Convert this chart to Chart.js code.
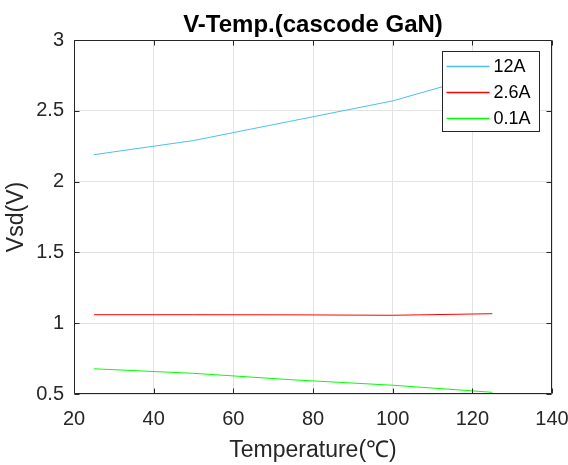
<!DOCTYPE html>
<html>
<head>
<meta charset="utf-8">
<script src="https://cdn.jsdelivr.net/npm/chart.js@4.4.1/dist/chart.umd.min.js"></script>
<style>
  html, body { margin: 0; padding: 0; background: #ffffff; }
  #wrap { width: 568px; height: 465px; position: relative; }
</style>
</head>
<body>
<div id="wrap"><canvas id="c" width="568" height="465"></canvas></div>
<script>
// ---- data ----
const temperatures = [25, 50, 75, 100, 125];
const series12A  = [2.19, 2.29, 2.43, 2.57, 2.77];
const series2_6A = [1.06, 1.06, 1.059, 1.056, 1.067];
const series0_1A = [0.678, 0.646, 0.600, 0.562, 0.512];
const seriesLabels = ['12A', '2.6A', '0.1A'];
const xTickRange = [20, 140, 20];
const yTickRange = [0.5, 3, 0.5];
const chartTitle = 'V-Temp.(cascode GaN)';
const xTitle = 'Temperature(\u2103)';
const yTitle = 'Vsd(V)';

const FONT = "Arial, 'Liberation Sans', Helvetica, sans-serif";
const AXIS_COLOR = '#262626';

function toPoints(vals) { return temperatures.map((t, i) => ({ x: t, y: vals[i] })); }

const boxPlugin = {
  id: 'matlabBox',
  afterDatasetsDraw(chart) {
    const { ctx, chartArea: ca, scales: { x, y } } = chart;
    ctx.save();
    ctx.strokeStyle = AXIS_COLOR;
    ctx.lineWidth = 1;
    const L = Math.round(ca.left) + 0.5, R = Math.round(ca.right) - 0.5;
    const T = Math.round(ca.top) + 0.5, B = Math.round(ca.bottom) - 0.5;
    ctx.beginPath();
    ctx.rect(L, T, R - L, B - T);
    ctx.stroke();
    const tl = 5;
    ctx.beginPath();
    x.ticks.forEach(t => {
      const px = Math.round(x.getPixelForValue(t.value)) + 0.5;
      ctx.moveTo(px, B); ctx.lineTo(px, B - tl);
      ctx.moveTo(px, T); ctx.lineTo(px, T + tl);
    });
    y.ticks.forEach(t => {
      const py = Math.round(y.getPixelForValue(t.value)) + 0.5;
      ctx.moveTo(L, py); ctx.lineTo(L + tl, py);
      ctx.moveTo(R, py); ctx.lineTo(R - tl, py);
    });
    ctx.stroke();

    // legend box
    const lw = 97, lh = 80;
    const lx = Math.round(ca.right - 13 - lw) + 0.5;
    const ly = Math.round(ca.top + 11) + 0.5;
    ctx.fillStyle = '#ffffff';
    ctx.fillRect(lx, ly, lw, lh);
    ctx.strokeStyle = AXIS_COLOR;
    ctx.strokeRect(lx, ly, lw, lh);
    ctx.font = '18px ' + FONT;
    ctx.textBaseline = 'middle';
    ctx.textAlign = 'left';
    chart.data.datasets.forEach((ds, i) => {
      const rowY = ly + 15 + i * 26;
      ctx.strokeStyle = ds.borderColor;
      ctx.lineWidth = 1.5;
      ctx.beginPath();
      ctx.moveTo(lx + 4, rowY); ctx.lineTo(lx + 47, rowY);
      ctx.stroke();
      ctx.fillStyle = '#000000';
      ctx.fillText(ds.label, lx + 51, rowY + 1);
    });

    // title centred over the plot area
    ctx.font = 'bold 24px ' + FONT;
    ctx.textAlign = 'center';
    ctx.textBaseline = 'middle';
    ctx.fillStyle = '#000000';
    ctx.fillText(chartTitle, (ca.left + ca.right) / 2, 25);
    ctx.restore();
  }
};

new Chart(document.getElementById('c'), {
  type: 'line',
  data: {
    datasets: [
      { label: seriesLabels[0], data: toPoints(series12A),  borderColor: '#4DBEEE', borderWidth: 1, pointRadius: 0, tension: 0 },
      { label: seriesLabels[1], data: toPoints(series2_6A), borderColor: '#FF0000', borderWidth: 1, pointRadius: 0, tension: 0 },
      { label: seriesLabels[2], data: toPoints(series0_1A), borderColor: '#00FF00', borderWidth: 1, pointRadius: 0, tension: 0 }
    ]
  },
  options: {
    responsive: false,
    animation: false,
    devicePixelRatio: 1,
    layout: { padding: { left: 0, right: 16, top: 40, bottom: 0 } },
    plugins: {
      legend: { display: false },
      tooltip: { enabled: false },
      title: { display: false }
    },
    scales: {
      x: {
        type: 'linear',
        min: xTickRange[0], max: xTickRange[1],
        ticks: { stepSize: xTickRange[2], color: AXIS_COLOR, font: { family: FONT, size: 20 }, padding: 13, maxRotation: 0 },
        grid: { color: '#e3e3e3', drawTicks: false },
        border: { display: false },
        title: { display: true, text: xTitle, color: AXIS_COLOR, font: { family: FONT, size: 23 }, padding: { top: 0, bottom: 1 } },
        afterFit(scale) { scale.height = 71; scale.paddingLeft = 0; scale.paddingRight = 0; }
      },
      y: {
        type: 'linear',
        min: yTickRange[0], max: yTickRange[1],
        ticks: {
          stepSize: yTickRange[2], color: AXIS_COLOR, font: { family: FONT, size: 20 }, padding: 10,
          callback: (v) => String(Math.round(v * 10) / 10)
        },
        grid: { color: '#e3e3e3', drawTicks: false },
        border: { display: false },
        title: { display: true, text: yTitle, color: AXIS_COLOR, font: { family: FONT, size: 23 }, padding: { top: 3, bottom: 0 } },
        afterFit(scale) { scale.width = 74; scale.paddingTop = 0; scale.paddingBottom = 0; }
      }
    }
  },
  plugins: [boxPlugin]
});
</script>
</body>
</html>
